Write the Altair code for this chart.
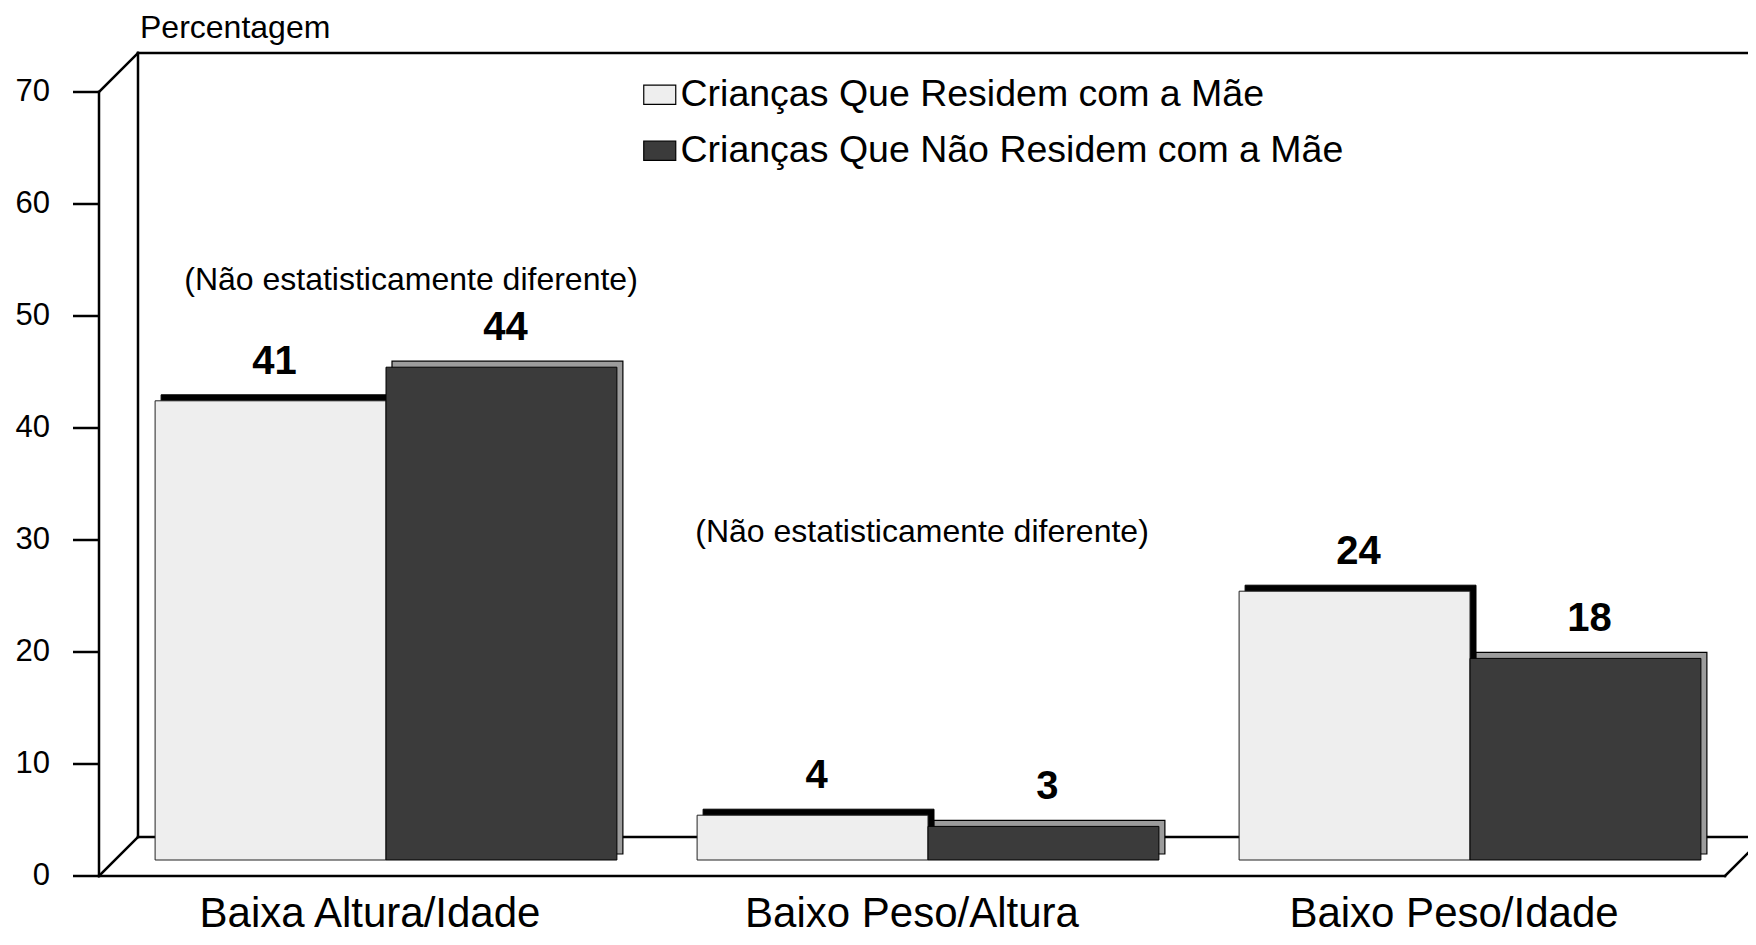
import altair as alt
import pandas as pd

# ---------------- data ----------------
categories = ["Baixa Altura/Idade", "Baixo Peso/Altura", "Baixo Peso/Idade"]
series = ["Crianças Que Residem com a Mãe", "Crianças Que Não Residem com a Mãe"]
residem = [41, 4, 24]
nao_residem = [44, 3, 18]
y_ticks = [0, 10, 20, 30, 40, 50, 60, 70]
y_title = "Percentagem"
note_text = "(Não estatisticamente diferente)"
note_categories = ["Baixa Altura/Idade", "Baixo Peso/Altura"]
note_levels = [51.8, 29.3]

# ---------------- layout / style ----------------
FONT = "Liberation Sans"
PLOT_W, PLOT_H = 1626, 784
PAD = {"left": 107, "top": 68, "right": 7, "bottom": 77}
P_IN, P_OUT = 0.148, 0.074
STEP = PLOT_W / (len(categories) - P_IN + 2 * P_OUT)
BAND = STEP * (1 - P_IN)
HALF = BAND / 4          # centre of each half-bar relative to band centre
FRONT = 16               # bar plane -> front plane (px)
BACK = 23                # bar plane -> back wall (px)
DEPTH = 6                # depth of each bar box (px)
TICK = 26                # tick length
LIGHT = "#eeeeee"
DARK = "#3b3b3b"
SIDE = "#9c9c9c"
LW = 2.5

df = pd.DataFrame({
    "categoria": categories * 2,
    "grupo": [series[0]] * len(categories) + [series[1]] * len(categories),
    "valor": residem + nao_residem,
})
notes = pd.DataFrame({
    "categoria": note_categories,
    "nota": [note_text] * len(note_categories),
    "nivel": note_levels,
})
frame_df = pd.DataFrame({"topo": [y_ticks[-1]], "base": [y_ticks[0]], "titulo": [y_title]})
ticks_df = pd.DataFrame({"tick": y_ticks})
cats_df = pd.DataFrame({"categoria": categories})

x_scale = alt.Scale(domain=categories, paddingInner=P_IN, paddingOuter=P_OUT)
y_scale = alt.Scale(domain=[y_ticks[0], y_ticks[-1]], nice=False, zero=True)

legend = alt.Legend(
    title=None, orient="none", legendX=526, legendY=0, direction="vertical",
    symbolType="M-1,-0.6H1V0.6H-1Z", symbolSize=1024,
    symbolStrokeColor="black", symbolStrokeWidth=1.2, symbolOpacity=1,
    labelFontSize=37.5, labelFont=FONT, labelColor="black", labelOffset=2,
    labelLimit=1500, rowPadding=17, padding=0,
)
fill_enc = alt.Fill("grupo:N", scale=alt.Scale(domain=series, range=[LIGHT, DARK]), legend=legend)

X = alt.X("categoria:N", sort=categories, scale=x_scale, axis=None)
Y = alt.Y("valor:Q", scale=y_scale, axis=None)
Y_TOP = alt.Y("topo:Q", scale=y_scale, axis=None)
Y_BASE = alt.Y("base:Q", scale=y_scale, axis=None)
Y_TICK = alt.Y("tick:Q", scale=y_scale, axis=None)

# ---------------- pseudo-3D frame ----------------
fr = alt.Chart(frame_df)
rule = dict(color="black", strokeWidth=LW, strokeCap="square")
back_top = fr.mark_rule(xOffset=BACK, x2Offset=BACK, yOffset=-BACK, **rule).encode(
    x=alt.value(0), x2=alt.value("width"), y=Y_TOP)
back_floor = fr.mark_rule(xOffset=BACK, x2Offset=BACK, yOffset=-BACK, **rule).encode(
    x=alt.value(0), x2=alt.value("width"), y=Y_BASE)
back_left = fr.mark_rule(xOffset=BACK, yOffset=-BACK, y2Offset=-BACK, **rule).encode(
    x=alt.value(0), y=Y_TOP, y2=alt.Y2("base:Q"))
diag_tl = fr.mark_rule(xOffset=-FRONT, x2Offset=BACK, yOffset=FRONT, y2Offset=-BACK, **rule).encode(
    x=alt.value(0), x2=alt.value(0), y=Y_TOP, y2=alt.Y2("topo:Q"))
diag_bl = fr.mark_rule(xOffset=-FRONT, x2Offset=BACK, yOffset=FRONT, y2Offset=-BACK, **rule).encode(
    x=alt.value(0), x2=alt.value(0), y=Y_BASE, y2=alt.Y2("base:Q"))
diag_br = fr.mark_rule(xOffset=-FRONT, x2Offset=BACK, yOffset=FRONT, y2Offset=-BACK, **rule).encode(
    x=alt.value("width"), x2=alt.value("width"), y=Y_BASE, y2=alt.Y2("base:Q"))

# front plane: value axis and category baseline
front_left = fr.mark_rule(xOffset=-FRONT, yOffset=FRONT, y2Offset=FRONT, **rule).encode(
    x=alt.value(0), y=Y_TOP, y2=alt.Y2("base:Q"))
front_floor = fr.mark_rule(xOffset=-FRONT, x2Offset=-FRONT, yOffset=FRONT, **rule).encode(
    x=alt.value(0), x2=alt.value("width"), y=Y_BASE)
tk = alt.Chart(ticks_df)
tick_marks = tk.mark_rule(xOffset=-FRONT - TICK, x2Offset=-FRONT, yOffset=FRONT, color="black",
                          strokeWidth=LW).encode(x=alt.value(0), x2=alt.value(0), y=Y_TICK)
tick_labels = tk.mark_text(xOffset=-FRONT - TICK - 23, yOffset=FRONT, align="right",
                           baseline="middle", font=FONT, fontSize=31, color="black").encode(
    x=alt.value(0), y=Y_TICK, text=alt.Text("tick:Q"))
y_title_mark = fr.mark_text(xOffset=BACK + 2, yOffset=-BACK - 25, align="left", baseline="middle",
                            font=FONT, fontSize=32, color="black").encode(
    x=alt.value(0), y=Y_TOP, text="titulo:N")
cat_labels = alt.Chart(cats_df).mark_text(xOffset=-FRONT, yOffset=67, align="center",
                                          baseline="alphabetic", font=FONT, fontSize=42,
                                          color="black").encode(
    x=X, y=alt.value("height"), text="categoria:N")

# ---------------- bars ----------------
s0 = alt.Chart(df).transform_filter(alt.datum.grupo == series[0])
s1 = alt.Chart(df).transform_filter(alt.datum.grupo == series[1])
half = alt.RelativeBandSize(0.5)

shadow0 = s0.mark_bar(width=half, xOffset=-HALF + DEPTH, yOffset=-DEPTH, y2Offset=-DEPTH,
                      fill="black", stroke="black", strokeWidth=1).encode(x=X, y=Y)
front0 = s0.mark_bar(width=half, xOffset=-HALF, stroke="#222222", strokeWidth=1).encode(
    x=X, y=Y, fill=fill_enc)
shadow1 = s1.mark_bar(width=half, xOffset=HALF + DEPTH, yOffset=-DEPTH, y2Offset=-DEPTH,
                      fill=SIDE, stroke="black", strokeWidth=1.2).encode(x=X, y=Y)
front1 = s1.mark_bar(width=half, xOffset=HALF, stroke="black", strokeWidth=1).encode(
    x=X, y=Y, fill=fill_enc)

lab = dict(font=FONT, fontSize=40, fontWeight="bold", baseline="alphabetic", align="center",
           dy=-27, color="black")
label0 = s0.mark_text(xOffset=-HALF + 4, **lab).encode(x=X, y=Y, text=alt.Text("valor:Q"))
label1 = s1.mark_text(xOffset=HALF + 4, **lab).encode(x=X, y=Y, text=alt.Text("valor:Q"))

# ---------------- annotations ----------------
nt = dict(font=FONT, fontSize=32, baseline="middle", align="center", color="black")
NY = alt.Y("nivel:Q", scale=y_scale, axis=None)
note0 = alt.Chart(notes).transform_filter(alt.datum.categoria == note_categories[0]).mark_text(
    xOffset=25, **nt).encode(x=X, y=NY, text="nota:N")
note1 = alt.Chart(notes).transform_filter(alt.datum.categoria == note_categories[1]).mark_text(
    xOffset=-6, **nt).encode(x=X, y=NY, text="nota:N")

chart = alt.layer(
    back_top, back_floor, back_left, diag_tl, diag_bl, diag_br,
    front_left, front_floor, tick_marks, tick_labels, y_title_mark, cat_labels,
    shadow0, front0, shadow1, front1, label0, label1, note0, note1,
).properties(
    width=PLOT_W, height=PLOT_H, padding=PAD,
    autosize=alt.AutoSizeParams(type="none"),
).configure(font=FONT, background="white").configure_view(stroke=None)

chart.save("out.html", embed_options={"renderer": "svg", "actions": False})
